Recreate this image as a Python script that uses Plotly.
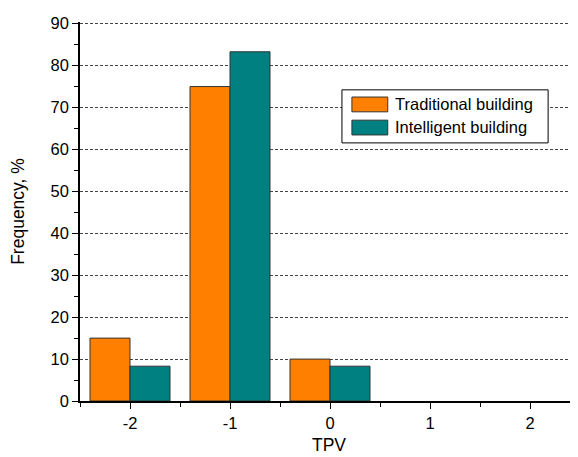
import plotly.graph_objects as go

tpv = [-2, -1, 0, 1, 2]
traditional = [15, 75, 10, 0, 0]
intelligent = [8.3, 83.3, 8.3, 0, 0]
y_ticks = [0, 10, 20, 30, 40, 50, 60, 70, 80, 90]
x_ticks = [-2, -1, 0, 1, 2]
names = ["Traditional building", "Intelligent building"]
colors = ["#FF8000", "#008080"]

FONT = "Liberation Sans, Arial, sans-serif"
TICK_SIZE = 16.5
TITLE_SIZE = 17.5

def outline_widths(vals):
    return [1 if v > 0 else 0 for v in vals]

fig = go.Figure()
fig.add_trace(go.Bar(x=tpv, y=traditional, name=names[0],
                     marker=dict(color=colors[0], line=dict(color="#333333", width=outline_widths(traditional))),
                     showlegend=False))
fig.add_trace(go.Bar(x=tpv, y=intelligent, name=names[1],
                     marker=dict(color=colors[1], line=dict(color="#333333", width=outline_widths(intelligent))),
                     showlegend=False))

# the page body has an 8px default margin, so the figure is 8px smaller
fig.update_layout(
    width=570, height=449,
    margin=dict(l=72, r=0, t=14, b=56, autoexpand=False),
    paper_bgcolor="white", plot_bgcolor="white",
    barmode="group", bargap=0.2, bargroupgap=0,
    font=dict(family=FONT, size=TICK_SIZE, color="black"),
    xaxis=dict(
        range=[-2.5, 2.48], tickvals=x_ticks, ticktext=[str(v) for v in x_ticks],
        automargin=False,
        showgrid=False, zeroline=False, showline=True, linecolor="black", linewidth=1.5,
        ticks="outside", ticklen=6, tickwidth=1.2, tickcolor="black",
        minor=dict(dtick=0.5, tick0=-2.5, ticks="outside", ticklen=4, tickcolor="black", tickwidth=1.2, showgrid=False),
        title=dict(text="TPV", font=dict(size=TITLE_SIZE), standoff=8),
        tickfont=dict(size=TICK_SIZE),
    ),
    yaxis=dict(
        range=[0, 90.4], tickvals=y_ticks,
        automargin=False,
        showgrid=True, gridcolor="#444444", gridwidth=1, griddash="3px,2px",
        zeroline=False, showline=True, linecolor="black", linewidth=1.5,
        ticks="outside", ticklen=6, tickwidth=1.2, tickcolor="black",
        minor=dict(dtick=5, tick0=0, ticks="outside", ticklen=4, tickcolor="black", tickwidth=1.2, showgrid=False),
        title=dict(text="Frequency, %", font=dict(size=TITLE_SIZE), standoff=24),
        tickfont=dict(size=TICK_SIZE),
    ),
)

# custom legend (paper coordinates)
fig.add_shape(type="rect", xref="paper", yref="paper", x0=0.526, x1=0.940, y0=0.681, y1=0.821,
              line=dict(color="black", width=1), fillcolor="white", layer="above")
sw = [(0.802, 0.763), (0.741, 0.702)]
ty = [0.783, 0.722]
for i in range(2):
    fig.add_shape(type="rect", xref="paper", yref="paper", x0=0.546, x1=0.618, y0=sw[i][1], y1=sw[i][0],
                  line=dict(color="#333333", width=1), fillcolor=colors[i], layer="above")
    fig.add_annotation(xref="paper", yref="paper", x=0.628, y=ty[i], text=names[i], showarrow=False,
                       xanchor="left", yanchor="middle", font=dict(size=TICK_SIZE, color="black"))

fig.write_html("out.html")
